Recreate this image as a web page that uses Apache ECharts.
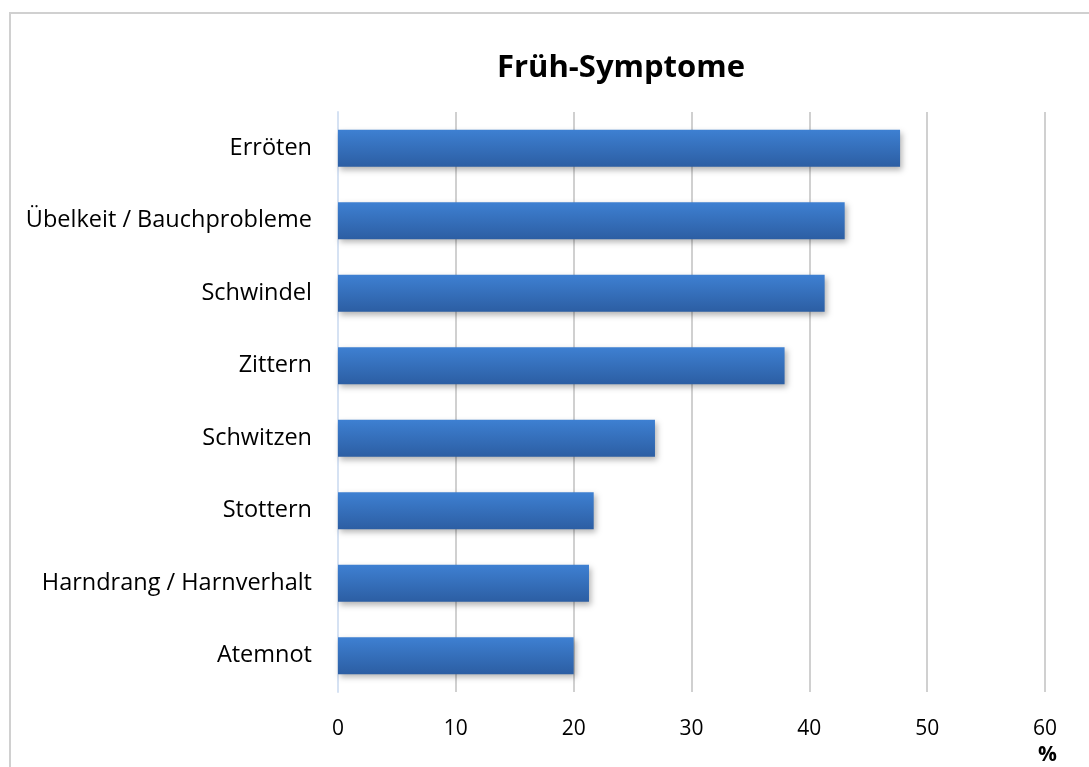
<!DOCTYPE html>
<html>
<head>
<meta charset="utf-8">
<script src="https://cdn.jsdelivr.net/npm/echarts@6/dist/echarts.min.js"></script>
<style>
html,body{margin:0;padding:0;background:#fff;}
#c{width:1089px;height:767px;}
</style>
</head>
<body>
<div id="c"></div>
<script>
const categories = ["Atemnot","Harndrang / Harnverhalt","Stottern","Schwitzen","Zittern","Schwindel","Übelkeit / Bauchprobleme","Erröten"];
const values = [20.0, 21.3, 21.7, 26.9, 37.9, 41.3, 43.0, 47.7];
const titleText = "Früh-Symptome";
const unitLabel = "%";

const chart = echarts.init(document.getElementById('c'));
const font = "'Open Sans', sans-serif";
chart.setOption({
  animation: false,
  backgroundColor: '#fff',
  title: {
    text: titleText,
    left: 616, top: 48, textAlign: 'center',
    textStyle: {fontFamily: font, fontSize: 31, fontWeight: 'bold', color: '#000'}
  },
  graphic: [
    {type: 'rect', shape: {x: 10, y: 13, width: 1200, height: 800},
     style: {fill: 'none', stroke: '#d0d0d0', lineWidth: 2}, silent: true},
    {type: 'text', left: 1038, top: 745,
     style: {text: unitLabel, fontFamily: font, fontSize: 21, fontWeight: 'bold', fill: '#000'}}
  ],
  grid: {left: 338, right: 44, top: 112, height: 580, containLabel: false},
  xAxis: {
    type: 'value', min: 0, max: 60, interval: 10,
    axisLine: {show: false},
    axisTick: {show: false},
    splitLine: {show: true, lineStyle: {color: '#d0d0d0', width: 2}},
    axisLabel: {margin: 27, fontFamily: font, fontSize: 21, color: '#000'}
  },
  yAxis: {
    type: 'category', data: categories,
    axisLine: {show: true, lineStyle: {color: '#d6e2f3', width: 2}},
    axisTick: {show: false},
    axisLabel: {margin: 26, fontFamily: font, fontSize: 23.5, color: '#000', padding: [4, 0, 0, 0]}
  },
  series: [{
    type: 'bar', data: values, barWidth: 37,
    itemStyle: {
      color: new echarts.graphic.LinearGradient(0, 0, 0, 1, [
        {offset: 0, color: '#3e80d2'},
        {offset: 1, color: '#2c5ea3'}
      ]),
      shadowColor: 'rgba(0,0,0,0.3)', shadowBlur: 6, shadowOffsetX: 2, shadowOffsetY: 3
    }
  }]
});
</script>
</body>
</html>
